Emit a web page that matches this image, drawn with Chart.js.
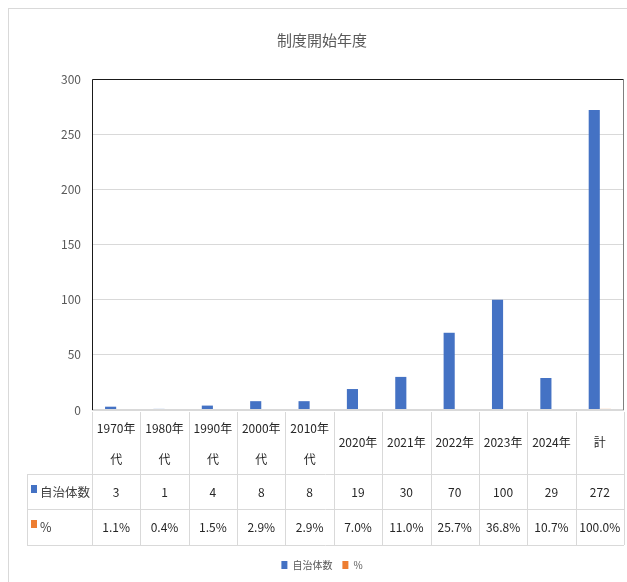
<!DOCTYPE html>
<html>
<head>
<meta charset="utf-8">
<script src="https://cdn.jsdelivr.net/npm/chart.js@4"></script>
<style>
  body { margin: 0; background: #fff; }
  #wrap { width: 627px; height: 582px; }
</style>
</head>
<body>
<div id="wrap"><canvas id="myChart" width="627" height="582"></canvas></div>
<script>
const titleText = '制度開始年度';
const categories = [['1970年', '代'], ['1980年', '代'], ['1990年', '代'], ['2000年', '代'], ['2010年', '代'],
  ['2020年'], ['2021年'], ['2022年'], ['2023年'], ['2024年'], ['計']];
const municipalities = [3, 1, 4, 8, 8, 19, 30, 70, 100, 29, 272];
const shares = [0.011, 0.004, 0.015, 0.029, 0.029, 0.070, 0.110, 0.257, 0.368, 0.107, 1.000];
const seriesNames = ['自治体数', '%'];
const seriesColors = ['#4472C4', '#ED7D31'];
const yMax = 300;
const yStep = 50;

const FONT = '"Noto Sans CJK JP", "Noto Sans", sans-serif';

// data table under the plot, drawn from the same arrays
const tablePlugin = {
  id: 'dataTable',
  beforeDraw(chart) {
    const ctx = chart.ctx;
    ctx.save();
    ctx.strokeStyle = '#d9d9d9';
    ctx.lineWidth = 1;
    ctx.strokeRect(8.5, 8.5, 640, 600);
    ctx.restore();
  },
  afterDraw(chart) {
    const { ctx, chartArea } = chart;
    const n = categories.length;
    const left = chartArea.left, right = chartArea.right;
    const colW = (right - left) / n;
    const y0 = chartArea.bottom;
    const yCat = y0 + 64, yRow1 = yCat + 35, yRow2 = yRow1 + 36;
    const headLeft = 27;

    ctx.save();
    // axis line covers the tiny % bars like in the original
    ctx.fillStyle = '#d9d9d9';
    ctx.fillRect(left, y0 - 1, right - left, 2);

    ctx.strokeStyle = '#d9d9d9';
    ctx.lineWidth = 1;
    ctx.beginPath();
    [yCat, yRow1, yRow2].forEach(y => { ctx.moveTo(headLeft, y + 0.5); ctx.lineTo(right, y + 0.5); });
    for (let i = 0; i <= n; i++) {
      const xx = Math.round(left + i * colW) + 0.5;
      ctx.moveTo(xx, y0 + 2); ctx.lineTo(xx, yRow2);
    }
    ctx.moveTo(headLeft + 0.5, yCat); ctx.lineTo(headLeft + 0.5, yRow2);
    ctx.stroke();

    // plot border
    ctx.strokeStyle = '#1a1a1a';
    ctx.beginPath();
    ctx.moveTo(left + 0.5, y0); ctx.lineTo(left + 0.5, chartArea.top + 0.5);
    ctx.lineTo(right - 0.5, chartArea.top + 0.5);
    ctx.stroke();
    ctx.strokeStyle = '#7f7f7f';
    ctx.beginPath();
    ctx.moveTo(right - 0.5, chartArea.top + 0.5); ctx.lineTo(right - 0.5, y0);
    ctx.stroke();

    ctx.fillStyle = '#262626';
    ctx.font = '12px ' + FONT;
    ctx.textAlign = 'center';
    ctx.textBaseline = 'middle';
    categories.forEach((lines, i) => {
      const c = left + (i + 0.5) * colW;
      if (lines.length === 1) {
        ctx.fillText(lines[0], c, y0 + 32);
      } else {
        ctx.fillText(lines[0], c, y0 + 18);
        ctx.fillText(lines[1], c, y0 + 49);
      }
      ctx.fillText(String(municipalities[i]), c, yCat + 18);
      ctx.fillText((shares[i] * 100).toFixed(1) + '%', c, yRow1 + 18);
    });

    // row headers
    const rowsY = [yCat + 18, yRow1 + 18];
    seriesNames.forEach((name, r) => {
      ctx.fillStyle = seriesColors[r];
      ctx.fillRect(31, rowsY[r] - 7, 6, 8);
      ctx.fillStyle = '#404040';
      ctx.textAlign = 'left';
      ctx.font = '12.5px ' + FONT;
      ctx.fillText(name, 40, rowsY[r]);
    });
    ctx.restore();
  }
};

new Chart(document.getElementById('myChart'), {
  type: 'bar',
  data: {
    labels: categories,
    datasets: [
      { label: seriesNames[0], data: municipalities, backgroundColor: seriesColors[0] },
      { label: seriesNames[1], data: shares, backgroundColor: seriesColors[1] }
    ]
  },
  options: {
    responsive: false,
    animation: false,
    layout: { padding: { left: 20, right: 3, top: 0, bottom: 2 } },
    datasets: { bar: { categoryPercentage: 0.46, barPercentage: 1 } },
    plugins: {
      title: {
        display: true,
        text: titleText,
        color: '#595959',
        font: { family: FONT, size: 15, weight: 'normal', lineHeight: 1.2 },
        padding: { top: 31, bottom: 30 }
      },
      legend: {
        position: 'bottom',
        labels: {
          color: '#595959',
          font: { family: FONT, size: 10 },
          boxWidth: 6,
          boxHeight: 8,
          padding: 10
        }
      },
      tooltip: { enabled: false }
    },
    scales: {
      x: {
        grid: { display: false },
        border: { display: false },
        ticks: { display: false },
        afterFit(scale) { scale.height = 140; }
      },
      y: {
        min: 0,
        max: yMax,
        ticks: { stepSize: yStep, color: '#595959', padding: 11, font: { family: FONT, size: 12 } },
        grid: { color: '#d9d9d9', drawTicks: false },
        border: { display: false },
        afterFit(scale) { scale.width = 72; }
      }
    }
  },
  plugins: [tablePlugin]
});
</script>
</body>
</html>
